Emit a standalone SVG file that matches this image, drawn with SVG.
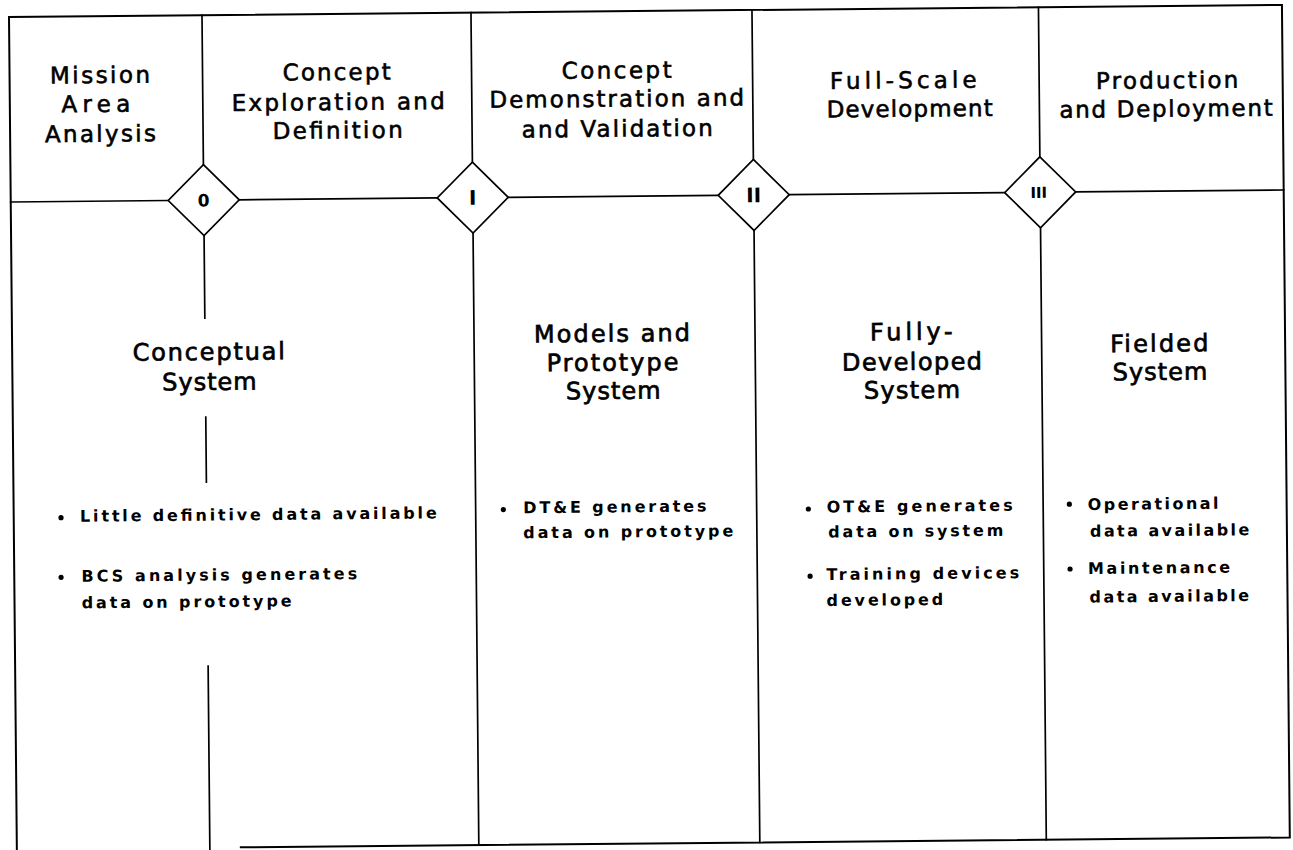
<svg xmlns="http://www.w3.org/2000/svg" width="1293" height="850" viewBox="0 0 1293 850">
  <style>
    .ln { stroke: #000; stroke-width: 1.7; fill: none; stroke-linecap: square; }
    .frame { stroke: #000; stroke-width: 2; fill: none; }
    .dia { stroke: #000; stroke-width: 1.7; fill: #fff; }
    .hd { font-family: "DejaVu Sans", Verdana, sans-serif; font-size: 23px; fill: #000; stroke: #000; stroke-width: 0.6; text-anchor: middle; }
    .sh { font-family: "DejaVu Sans", Verdana, sans-serif; font-size: 24px; fill: #000; stroke: #000; stroke-width: 0.7; text-anchor: middle; }
    .bt { font-family: "DejaVu Sans", Verdana, sans-serif; font-size: 16px; font-weight: bold; fill: #000; }
    .ms { font-family: "DejaVu Sans", Verdana, sans-serif; font-weight: bold; fill: #000; text-anchor: middle; }
  </style>
  <defs>
    <polygon id="diamond" points="0,-35.5 35.5,0 0,35.5 -35.5,0" class="dia"/>
  </defs>
  <rect x="0" y="0" width="1293" height="850" fill="#fff"/>
  <g transform="rotate(-0.54 8 17)">
    <g id="frame">
      <path class="frame" d="M9,870 V17 H1282 V849.5 H232"/>
    </g>
    <g id="connectors">
      <path class="ln" d="M9,202 H166.5 M237.5,202 H435.5 M506.5,202 H716.5 M787.5,202 H1003 M1074,202 H1282"/>
      <path class="ln" d="M202,17 V166.5 M202,237.5 V320 M202,419 V484 M202,668 V870"/>
      <path class="ln" d="M471,17 V166.5 M471,237.5 V849.5"/>
      <path class="ln" d="M752,17 V166.5 M752,237.5 V849.5"/>
      <path class="ln" d="M1038.5,17 V166.5 M1038.5,237.5 V849.5"/>
    </g>
    <g id="milestone-0">
      <use href="#diamond" x="202" y="202"/>
      <text class="ms" x="202" y="208.2" font-size="17">0</text>
    </g>
    <g id="milestone-I">
      <use href="#diamond" x="471" y="202"/>
      <text class="ms" x="471" y="209.2" font-size="20">I</text>
    </g>
    <g id="milestone-II">
      <use href="#diamond" x="752" y="202"/>
      <text class="ms" x="752" y="209.2" font-size="20">II</text>
    </g>
    <g id="milestone-III">
      <use href="#diamond" x="1038.5" y="202"/>
      <text class="ms" x="1037" y="207.6" font-size="15">III</text>
    </g>
    <g id="phase-mission-area-analysis">
      <text class="hd" x="99.4" y="83.9" textLength="100" lengthAdjust="spacing">Mission</text>
      <text class="hd" x="95" y="112.8" textLength="69" lengthAdjust="spacing">Area</text>
      <text class="hd" x="99.3" y="142.6" textLength="111" lengthAdjust="spacing">Analysis</text>
    </g>
    <g id="phase-concept-exploration">
      <text class="hd" x="336.1" y="83.1" textLength="108" lengthAdjust="spacing">Concept</text>
      <text class="hd" x="337.4" y="113.1" textLength="213" lengthAdjust="spacing">Exploration and</text>
      <text class="hd" x="336.6" y="141.4" textLength="130" lengthAdjust="spacing">Definition</text>
    </g>
    <g id="phase-concept-demonstration">
      <text class="hd" x="616.1" y="84" textLength="110" lengthAdjust="spacing">Concept</text>
      <text class="hd" x="615.9" y="112.4" textLength="254.7" lengthAdjust="spacing">Demonstration and</text>
      <text class="hd" x="616.1" y="142.4" textLength="191" lengthAdjust="spacing">and Validation</text>
    </g>
    <g id="phase-full-scale-development">
      <text class="hd" x="902.6" y="96.7" textLength="146.7" lengthAdjust="spacing">Full-Scale</text>
      <text class="hd" x="908.8" y="125.2" textLength="166" lengthAdjust="spacing">Development</text>
    </g>
    <g id="phase-production-deployment">
      <text class="hd" x="1166.5" y="99.2" textLength="142.3" lengthAdjust="spacing">Production</text>
      <text class="hd" x="1165.1" y="127.6" textLength="213.3" lengthAdjust="spacing">and Deployment</text>
    </g>
    <g id="conceptual-system">
      <text class="sh" x="205.6" y="361.9" textLength="152.3" lengthAdjust="spacing">Conceptual</text>
      <text class="sh" x="206" y="391.9" textLength="94.3" lengthAdjust="spacing">System</text>
      <circle cx="56.3" cy="518.2" r="2.6"/>
      <text class="bt" x="75.3" y="522.4" textLength="356.7" lengthAdjust="spacing">Little definitive data available</text>
      <circle cx="55.8" cy="577.8" r="2.6"/>
      <text class="bt" x="76.2" y="582.4" textLength="275.7" lengthAdjust="spacing">BCS analysis generates</text>
      <text class="bt" x="76.1" y="609" textLength="210" lengthAdjust="spacing">data on prototype</text>
    </g>
    <g id="models-prototype-system">
      <text class="sh" x="609" y="347.4" textLength="156" lengthAdjust="spacing">Models and</text>
      <text class="sh" x="609.2" y="376.4" textLength="131.7" lengthAdjust="spacing">Prototype</text>
      <text class="sh" x="609.7" y="404.7" textLength="94.7" lengthAdjust="spacing">System</text>
      <circle cx="498.7" cy="514.2" r="2.6"/>
      <text class="bt" x="518.6" y="518.1" textLength="183.3" lengthAdjust="spacing">DT&amp;E generates</text>
      <text class="bt" x="518.4" y="543.1" textLength="210" lengthAdjust="spacing">data on prototype</text>
    </g>
    <g id="fully-developed-system">
      <text class="sh" x="908.3" y="348.5" textLength="82.7" lengthAdjust="spacing">Fully-</text>
      <text class="sh" x="908.7" y="378.5" textLength="140" lengthAdjust="spacing">Developed</text>
      <text class="sh" x="908.4" y="406.8" textLength="96" lengthAdjust="spacing">System</text>
      <circle cx="803.7" cy="516.5" r="2.6"/>
      <text class="bt" x="822" y="520.2" textLength="186" lengthAdjust="spacing">OT&amp;E generates</text>
      <text class="bt" x="823.4" y="545.2" textLength="175" lengthAdjust="spacing">data on system</text>
      <circle cx="804.8" cy="583.7" r="2.6"/>
      <text class="bt" x="821.2" y="587.7" textLength="192.7" lengthAdjust="spacing">Training devices</text>
      <text class="bt" x="821" y="613.7" textLength="116.7" lengthAdjust="spacing">developed</text>
    </g>
    <g id="fielded-system">
      <text class="sh" x="1156.1" y="362.5" textLength="98.3" lengthAdjust="spacing">Fielded</text>
      <text class="sh" x="1156.6" y="390.8" textLength="94.7" lengthAdjust="spacing">System</text>
      <circle cx="1064.7" cy="514.2" r="2.6"/>
      <text class="bt" x="1083.1" y="520.2" textLength="130.7" lengthAdjust="spacing">Operational</text>
      <text class="bt" x="1085.1" y="546.9" textLength="159.3" lengthAdjust="spacing">data available</text>
      <circle cx="1064.8" cy="579" r="2.6"/>
      <text class="bt" x="1082.8" y="584.2" textLength="142" lengthAdjust="spacing">Maintenance</text>
      <text class="bt" x="1084" y="612.7" textLength="159.5" lengthAdjust="spacing">data available</text>
    </g>
  </g>
</svg>
